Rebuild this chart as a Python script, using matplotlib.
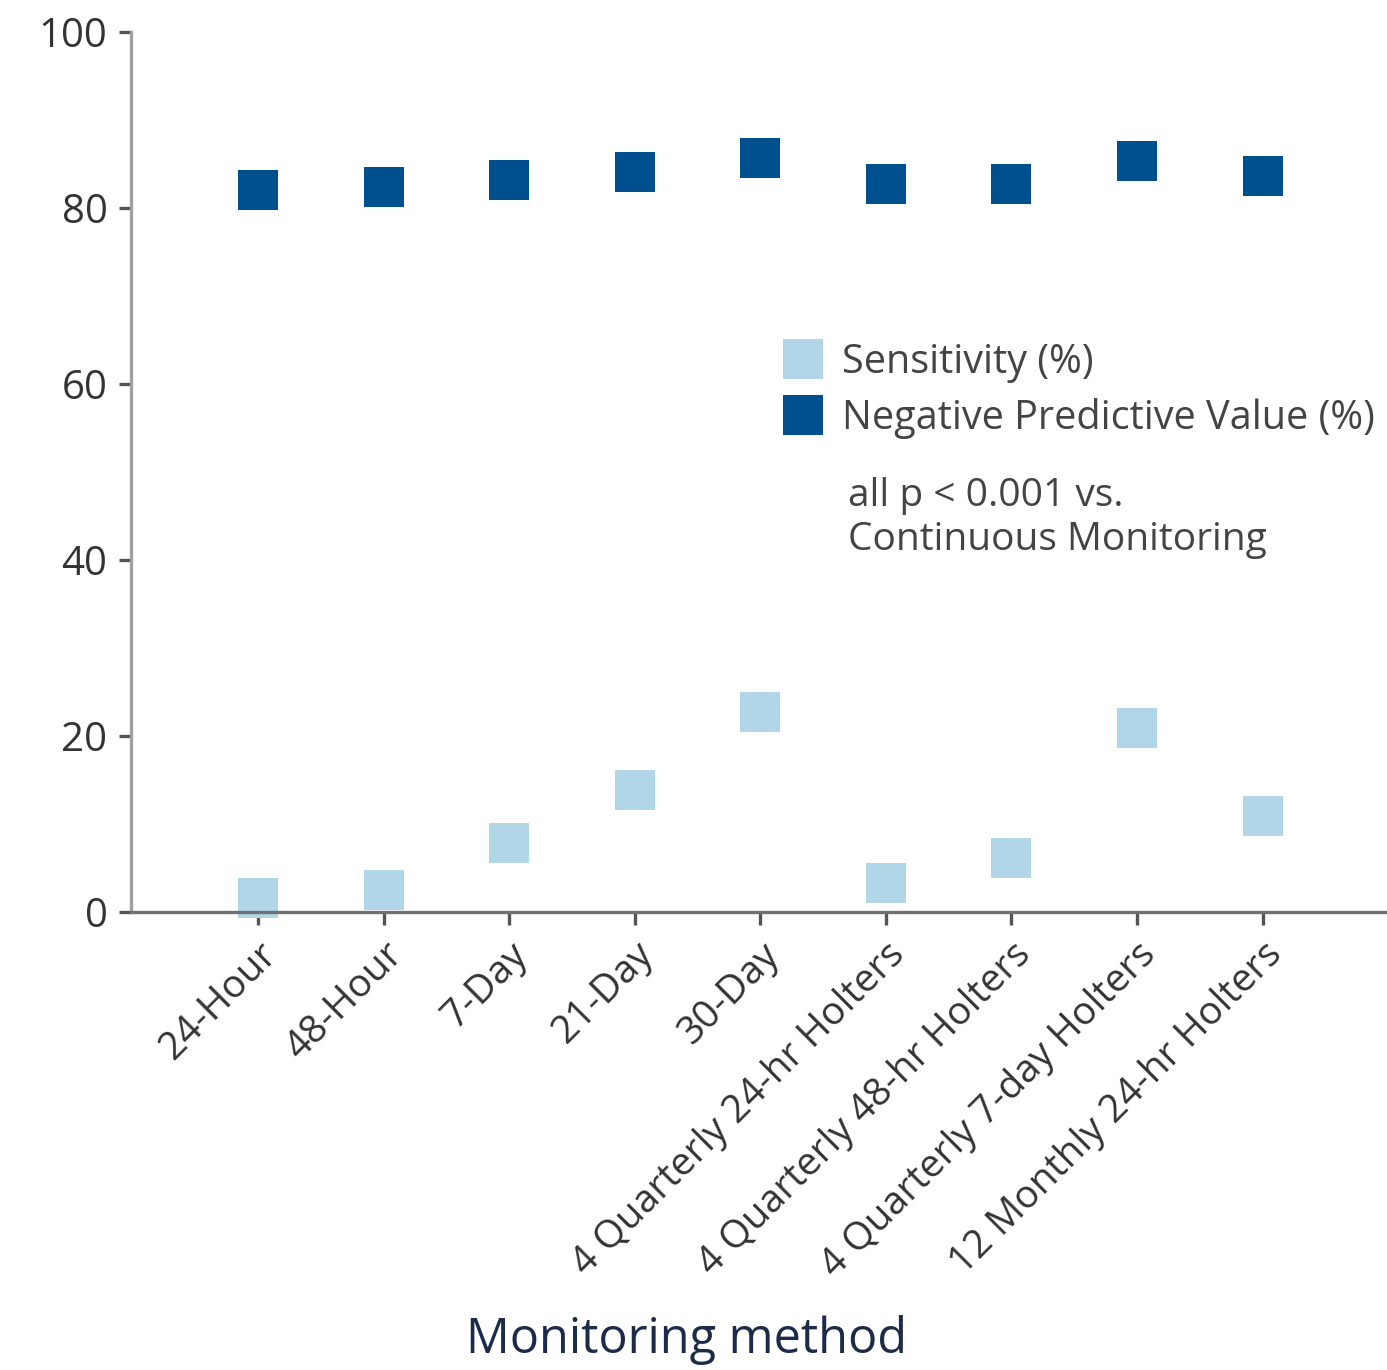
import matplotlib
matplotlib.use("Agg")
import matplotlib.pyplot as plt
from matplotlib.lines import Line2D

plt.rcParams["font.family"] = ["Open Sans", "DejaVu Sans"]

metodos = ["24-Hour", "48-Hour", "7-Day", "21-Day", "30-Day",
           "4 Quarterly 24-hr Holters", "4 Quarterly 48-hr Holters",
           "4 Quarterly 7-day Holters", "12 Monthly 24-hr Holters"]
sensibilidad = [1.6, 2.5, 7.8, 13.9, 22.7, 3.3, 6.1, 20.9, 10.9]
vpn = [82.0, 82.4, 83.2, 84.1, 85.7, 82.7, 82.7, 85.3, 83.6]

azul_claro = "#b0d6e8"
azul_oscuro = "#00508f"
gris = "#707070"

fig = plt.figure(figsize=(13.87, 13.70), dpi=100)
ax = fig.add_axes([0.0945, 0.3343, 0.9055, 0.6423])

x = range(len(metodos))
ax.scatter(x, sensibilidad, marker="s", s=820, color=azul_claro, linewidths=0,
           zorder=3, clip_on=False)
ax.scatter(x, vpn, marker="s", s=820, color=azul_oscuro, linewidths=0,
           zorder=3, clip_on=False)

ax.set_xlim(-1.01, 8.99)
ax.set_ylim(0, 100)
ax.set_yticks([0, 20, 40, 60, 80, 100])
ax.set_xticks(list(x))
ax.set_xticklabels(metodos, rotation=45, ha="right", rotation_mode="anchor")

for lado in ["top", "right"]:
    ax.spines[lado].set_visible(False)
ax.spines["bottom"].set_color(gris)
ax.spines["bottom"].set_linewidth(2.4)
ax.spines["bottom"].set_zorder(4)
ax.spines["left"].set_color("#a0a0a0")
ax.spines["left"].set_linewidth(2.4)

ax.tick_params(axis="both", colors="#555555", length=9, width=2.4,
               labelcolor="#333333", pad=8)
ax.tick_params(axis="x", labelsize=28)
ax.tick_params(axis="y", labelsize=29)

handles = [
    Line2D([], [], marker="s", linestyle="none", markersize=29,
           markerfacecolor=azul_claro, markeredgewidth=0),
    Line2D([], [], marker="s", linestyle="none", markersize=29,
           markerfacecolor=azul_oscuro, markeredgewidth=0),
]
ax.legend(handles, ["Sensitivity (%)", "Negative Predictive Value (%)"],
          loc="upper left", bbox_to_anchor=(0.5, 0.67), frameon=False,
          fontsize=28.5, labelcolor="#444444", handletextpad=0.4,
          labelspacing=0.38, borderpad=0, handlelength=1.2)

fig.text(848 / 1387, 1 - 518 / 1370, "all p < 0.001 vs.\nContinuous Monitoring",
         fontsize=28, color="#444444", va="center", ha="left", linespacing=1.2)

fig.text(686 / 1387, 1 - 1340 / 1370, "Monitoring method",
         fontsize=35, color="#1c2b4a", ha="center", va="center")

fig.savefig("out.png", dpi=100)
